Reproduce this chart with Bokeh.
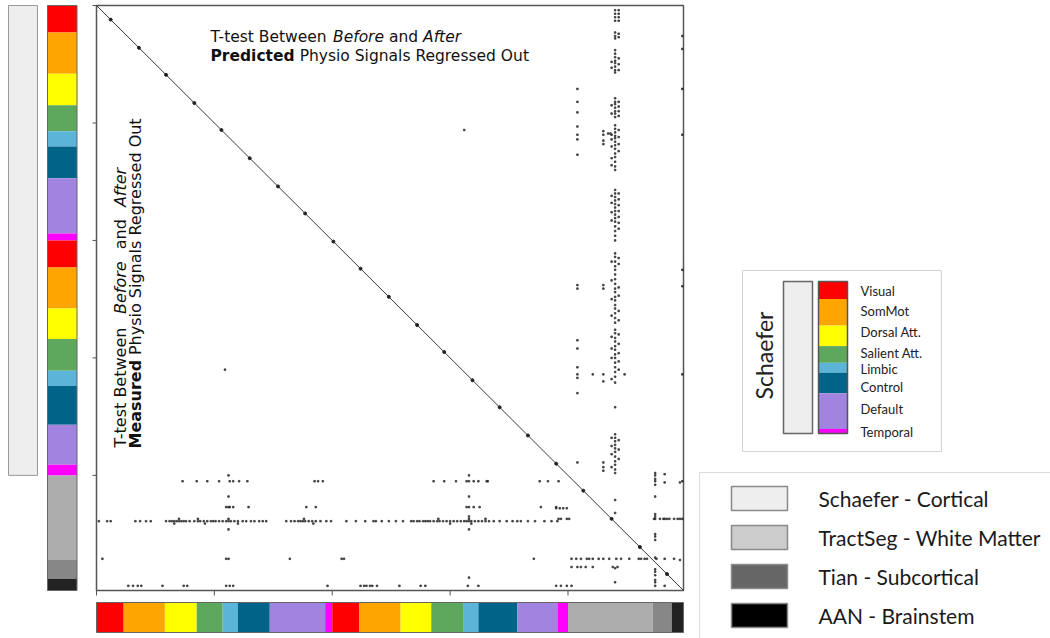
import numpy as np
from bokeh.plotting import figure
from bokeh.models import Range1d, ColumnDataSource
from bokeh.core.properties import value
from bokeh.embed import file_html
from bokeh.resources import INLINE

# ---------------- data ----------------
network_names = ["Visual", "SomMot", "Dorsal Att.", "Salient Att.",
                 "Limbic", "Control", "Default", "Temporal"]
network_colors = ["#ff0000", "#ffa500", "#ffff00", "#5ea85e",
                  "#5cb4d9", "#006489", "#a084df", "#ff00ff"]
lh_counts = [23, 35, 27, 22, 13, 27, 47, 6]
rh_counts = [23, 35, 26, 27, 13, 33, 34, 9]

extra_counts = [72, 16, 10]          # TractSeg, Tian, AAN
extra_colors = ["#adadad", "#878787", "#222222"]

atlas_labels = ["Schaefer - Cortical", "TractSeg - White Matter",
                "Tian - Subcortical", "AAN - Brainstem"]
atlas_colors = ["#eeeeee", "#cccccc", "#666666", "#000000"]

tick_values = [0, 100, 200, 300, 400]
diag_marks = [12, 36, 59, 83, 106, 130, 154, 177, 201, 224, 248, 272,
              295, 319, 342, 366, 390, 413, 437, 461, 484]

# significant edges: vertical runs (column -> rows)
col_437 = [48, 53, 85, 92, 110, 114, 120, 130, 136, 162, 168, 176, 183, 218,
           234, 250, 264, 282, 292, 300, 318, 368, 375, 382, 393]
col_440 = [4, 7, 10, 13, 23, 26, 28, 38, 41, 44, 47, 49, 52, 55, 57, 79, 82,
           84, 87, 90, 92, 95, 102, 105, 108, 111, 113, 116, 119, 122, 126,
           129, 133, 137, 140, 157, 160, 163, 166, 169, 172, 175, 178, 181,
           184, 188, 192, 196, 200, 211, 214, 218, 222, 225, 229, 233, 237,
           241, 244, 248, 251, 255, 258, 262, 266, 270, 276, 279, 283, 286,
           290, 293, 297, 300, 304, 308, 312, 316, 321, 342, 365, 368, 371,
           374, 377, 380, 384, 388, 391, 395, 398, 421, 432, 479, 491]
col_443 = [4, 7, 10, 13, 24, 27, 45, 50, 55, 82, 86, 90, 94, 106, 112, 118,
           124, 160, 165, 170, 175, 180, 185, 190, 215, 220, 240, 247, 260,
           268, 280, 288, 296, 303, 310, 370, 378, 386]
col_408 = [71, 82, 91, 103, 110, 114, 127, 238, 241, 285, 292, 308, 314, 317,
           330, 389]
col_430 = [107, 110, 115, 118, 238, 241, 314, 320, 389, 393, 396]
col_497 = [26, 37, 71, 110, 225, 239, 314, 405, 437]
col_474 = [398, 400, 403, 405, 408, 418, 433, 435, 437, 450, 452, 455, 470,
           480, 482, 485, 489, 491, 494]
col_482 = [399, 406, 437, 494]
col_495 = [406, 472]
col_112 = [400, 418, 427, 446, 471]
col_316 = [400, 418, 427, 435, 446, 487]

# significant edges: horizontal runs (row -> columns)
row_109 = [434, 436]
row_314 = [421, 448]
row_405 = [73, 85, 94, 104, 113, 116, 121, 128, 185, 188, 192, 286, 295, 305,
           314, 316, 320, 324, 331, 332, 376, 383, 392]
row_427 = [110, 113, 116, 129, 178, 186, 314, 320, 325, 377, 390]
row_428 = [390, 393, 396, 399]
row_437 = [70, 86, 112, 176, 290, 316, 330, 392, 394, 399, 401, 473, 478,
           481, 484, 486, 490, 493, 495]
row_439 = [2, 9, 12, 33, 37, 42, 46, 59, 62, 64, 66, 68, 70, 72, 74, 76, 79,
           83, 86, 88, 91, 94, 97, 99, 101, 104, 107, 110, 112, 114, 117, 120,
           124, 127, 131, 134, 138, 141, 144, 161, 165, 168, 171, 173, 175,
           177, 180, 183, 186, 190, 195, 199, 212, 220, 228, 235, 237, 242,
           248, 254, 260, 267, 269, 272, 274, 277, 279, 281, 283, 286, 289,
           291, 294, 297, 300, 303, 306, 309, 312, 314, 316, 318, 321, 324,
           327, 330, 333, 337, 342, 348, 353, 357, 360, 366, 372, 380, 386,
           391]
row_441 = [66, 92, 120, 184, 300, 318]
row_471 = [5, 110, 164, 208, 210, 371, 403, 407, 411, 416, 418, 421, 426,
           430, 435, 441, 445, 452, 460, 462, 465, 467, 475, 482, 490]
row_478 = [403, 408, 411, 415, 421, 438, 442]
row_494 = [27, 31, 35, 38, 56, 74, 77, 110, 113, 116, 196, 224, 227, 229,
           232, 234, 238, 257, 275, 279, 315, 324, 390, 394, 399, 403]
lone_rows = [106, 310]
lone_cols = [312, 109]

# ---------------- assembly ----------------
seg_counts = lh_counts + rh_counts + extra_counts
seg_colors = network_colors + network_colors + extra_colors
edges = np.concatenate([[0], np.cumsum(seg_counts)])
n_nodes = int(edges[-1])
n_schaefer = sum(lh_counts) + sum(rh_counts)

col_runs = {437: col_437, 440: col_440, 443: col_443, 408: col_408,
            430: col_430, 497: col_497, 474: col_474, 482: col_482,
            495: col_495, 112: col_112, 316: col_316}
row_runs = {109: row_109, 314: row_314, 405: row_405, 427: row_427,
            428: row_428, 437: row_437, 439: row_439, 441: row_441,
            471: row_471, 478: row_478, 494: row_494}
hit_x, hit_y = list(lone_cols), list(lone_rows)
for c, rows in col_runs.items():
    hit_x += [c] * len(rows)
    hit_y += rows
for r, cols in row_runs.items():
    hit_x += cols
    hit_y += [r] * len(cols)

# page geometry (pixels) -> matrix units
W, H = 1050, 638
PX_X0, PX_X1, PX_Y0, PX_Y1 = 96, 683, 5, 590
sx = (PX_X1 - PX_X0) / n_nodes
sy = (PX_Y1 - PX_Y0) / n_nodes


def dx(px):
    return (px - PX_X0) / sx


def dy(py):
    return (py - PX_Y0) / sy


# DejaVu Sans advance widths (font units / 2048) for laying out mixed-style
# title runs one after another
ADV = {" ": 651, "-": 739, "A": 1401, "B": 1405, "M": 1767, "O": 1612,
       "P": 1235, "R": 1423, "S": 1300, "T": 1251, "a": 1255, "c": 1126,
       "d": 1300, "e": 1260, "f": 721, "g": 1300, "h": 1298, "i": 569,
       "l": 569, "n": 1298, "o": 1253, "r": 842, "s": 1067, "t": 803,
       "u": 1298, "w": 1675, "y": 1212}
ADV_BOLD = {" ": 713, "M": 1995, "P": 1507, "a": 1382, "c": 1219, "d": 1466,
            "e": 1389, "i": 702, "r": 1010, "s": 1219, "t": 979, "u": 1458}


def layout_runs(runs, size, extra_gap=0.0):
    """Visible text and start offset (px) of each (text, style) run."""
    texts, starts, pos = [], [], 0.0
    for k, (txt, style) in enumerate(runs):
        table = ADV_BOLD if style == "bold" else ADV
        if k:
            pos += extra_gap
        lead = len(txt) - len(txt.lstrip(" "))
        texts.append(txt.strip(" "))
        starts.append(pos + lead * table[" "] / 2048 * size)
        pos += sum(table.get(ch, 1200) for ch in txt) / 2048 * size
    return texts, starts


def title_runs(lead):
    line1 = [("T-test Between", "normal"), (" Before", "italic"),
             (" and", "normal"), (" After", "italic")]
    line2 = [(lead, "bold"), (" Physio Signals Regressed Out", "normal")]
    return line1, line2


p = figure(width=W, height=H, x_range=Range1d(dx(0), dx(W)),
           y_range=Range1d(dy(H), dy(0)), output_backend="svg",
           toolbar_location=None, x_axis_location=None, y_axis_location=None,
           min_border=0, outline_line_color=None,
           background_fill_color="white", border_fill_color="white")
p.xgrid.visible = False
p.ygrid.visible = False

# atlas strip on the left (Schaefer extent) and network strips
p.quad(left=dx(8), right=dx(37), top=0, bottom=n_schaefer,
       fill_color="#eeeeee", line_color="#9a9a9a", line_width=1)
p.quad(left=dx(47), right=dx(76.5), top=edges[:-1], bottom=edges[1:],
       fill_color=seg_colors, line_color=None)
p.quad(left=dx(47), right=dx(76.5), top=0, bottom=n_nodes,
       fill_color=None, line_color="#666666", line_width=1)
p.quad(left=edges[:-1], right=edges[1:], top=dy(602), bottom=dy(632),
       fill_color=seg_colors, line_color=None)
p.quad(left=0, right=n_nodes, top=dy(602), bottom=dy(632),
       fill_color=None, line_color="#666666", line_width=1)

# matrix frame, ticks, diagonal
p.quad(left=0, right=n_nodes, top=0, bottom=n_nodes, fill_color=None,
       line_color="#555555", line_width=1.5)
p.segment(x0=[0] * len(tick_values), x1=[-4 / sx] * len(tick_values),
          y0=tick_values, y1=tick_values, line_color="#555555", line_width=1)
p.segment(x0=tick_values, x1=tick_values, y0=[n_nodes] * len(tick_values),
          y1=[n_nodes + 5 / sy] * len(tick_values), line_color="#555555",
          line_width=1)
p.line([0, n_nodes], [0, n_nodes], line_color="#3a3a3a", line_width=1)
p.scatter(diag_marks, diag_marks, marker="circle", size=3, color="#222222")

# significant edges
p.scatter(hit_x, hit_y, marker="square", size=1.6, color="#222222",
          alpha=0.7)

# titles
DV = value("DejaVu Sans")
TOP_SIZE, LEFT_SIZE = 15.5, 16.0
top1, top2 = title_runs("Predicted")
t1, o1 = layout_runs(top1, TOP_SIZE)
t2, o2 = layout_runs(top2, TOP_SIZE)
top_src = ColumnDataSource(dict(
    x=[dx(210 + o) for o in o1 + o2],
    y=[dy(36)] * len(o1) + [dy(55)] * len(o2),
    text=t1 + t2,
    style=[s for _, s in top1 + top2]))
p.text(x="x", y="y", text="text", source=top_src, text_font=DV,
       text_font_size=value(f"{TOP_SIZE}px"), text_font_style="style",
       text_color="#111111", text_align="left", text_baseline="alphabetic")

left1, left2 = title_runs("Measured")
u1, l1 = layout_runs(left1, LEFT_SIZE, extra_gap=7.0)
u2, l2 = layout_runs(left2, LEFT_SIZE)
left_src = ColumnDataSource(dict(
    x=[dx(119.5)] * len(l1) + [dx(134.5)] * len(l2),
    y=[dy(447 - o) for o in l1] + [dy(448 - o) for o in l2],
    text=u1 + u2,
    style=[s for _, s in left1 + left2]))
p.text(x="x", y="y", text="text", source=left_src, text_font=DV,
       text_font_size=value(f"{LEFT_SIZE}px"), text_font_style="style",
       text_color="#111111", text_align="left", text_baseline="alphabetic",
       angle=np.pi / 2)

# Schaefer network key
KEYFONT = value("Lato")
p.quad(left=dx(742), right=dx(941), top=dy(270), bottom=dy(451),
       fill_color="white", line_color="#d4d4d4", line_width=1)
p.quad(left=dx(783), right=dx(812), top=dy(281), bottom=dy(433),
       fill_color="#eeeeee", line_color="#666666", line_width=1.5)
key_edges = np.concatenate([[0], np.cumsum(lh_counts)]) / sum(lh_counts)
key_y = [dy(281 + 152 * f) for f in key_edges]
p.quad(left=dx(818), right=dx(847), top=key_y[:-1], bottom=key_y[1:],
       fill_color=network_colors, line_color=None)
p.quad(left=dx(818), right=dx(847), top=dy(281), bottom=dy(433),
       fill_color=None, line_color="#555555", line_width=1.5)
key_label_px = [290, 310, 331, 352, 368, 386, 408, 431]
p.text(x=[dx(860)] * len(network_names), y=[dy(v) for v in key_label_px],
       text=network_names, text_font=KEYFONT, text_font_size=value("13px"),
       text_color="#222222", text_align="left", text_baseline="middle")
p.text(x=[dx(763)], y=[dy(355)], text=["Schaefer"], text_font=KEYFONT,
       text_font_size=value("23px"), text_color="#222222",
       text_align="center", text_baseline="alphabetic", angle=np.pi / 2)

# atlas key
p.quad(left=dx(699), right=dx(1060), top=dy(472), bottom=dy(650),
       fill_color="white", line_color="#dddddd", line_width=1)
sw_top = [486, 525, 564, 603]
p.quad(left=dx(731), right=dx(787), top=[dy(v) for v in sw_top],
       bottom=[dy(v + 24) for v in sw_top], fill_color=atlas_colors,
       line_color="#8a8a8a", line_width=1.5)
p.text(x=[dx(818)] * 4, y=[dy(v + 12) for v in sw_top], text=atlas_labels,
       text_font=KEYFONT, text_font_size=value("21px"), text_color="#1a1a1a",
       text_align="left", text_baseline="middle")

open("out.html", "w").write(file_html(p, INLINE))
